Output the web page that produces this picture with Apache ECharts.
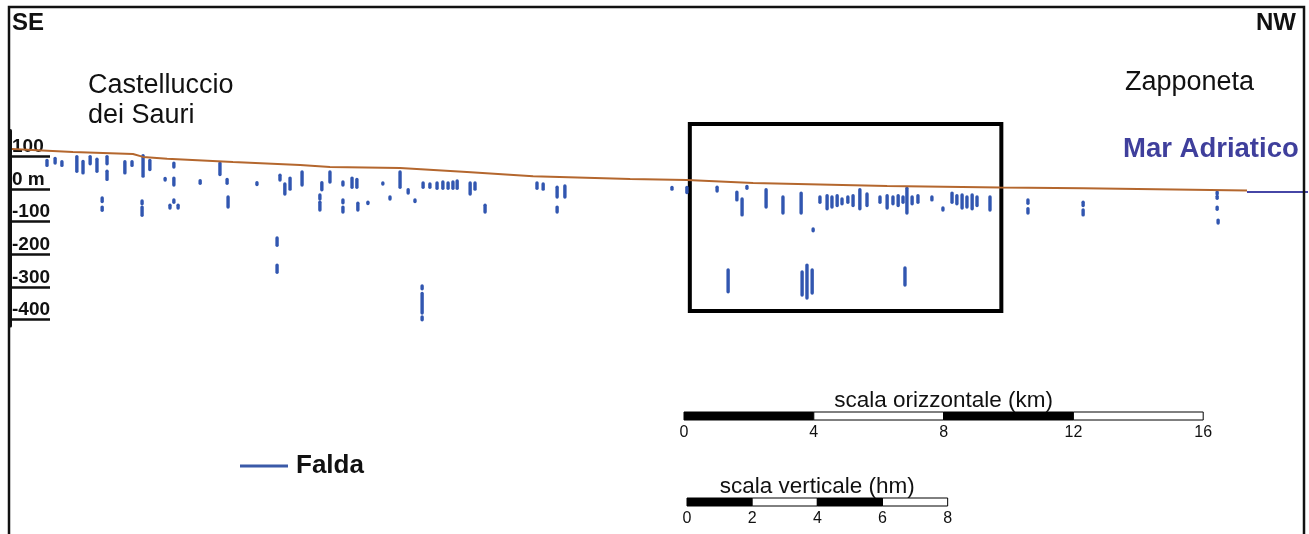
<!DOCTYPE html>
<html>
<head>
<meta charset="utf-8">
<script src="https://cdn.jsdelivr.net/npm/echarts@6/dist/echarts.min.js"></script>
<style>
html,body{margin:0;padding:0;background:#fff;}
#chart{width:1309px;height:534px;}
</style>
</head>
<body>
<div id="chart"></div>
<script>
// ---------------- DATA ----------------
// Topographic profile (distance in km from SE end, elevation in m a.s.l.)
const topoKm = [0.06, 1.94, 3.79, 4.10, 4.84, 6.87, 8.94, 9.86, 12.02, 14.08, 16.12, 19.11, 20.86, 22.90, 27.03, 30.51, 33.07, 38.12];
const topoM  = [123, 114, 108, 99, 93, 83, 74, 68, 65, 53, 40, 31, 28, 19, 10, 5, 3, -4];
// Sea level (Mar Adriatico)
const seaKm = [38.12, 40];
const seaM  = [-9, -9];
// Well screens / water intervals: [km, top m, bottom m]
const screens = [
  [1.14, 88, 73], [1.39, 94, 80], [1.60, 84, 73],
  [2.06, 100, 55], [2.25, 85, 50], [2.47, 100, 78], [2.68, 92, 55],
  [2.99, 100, 78], [2.99, 55, 30], [3.54, 84, 50], [3.76, 84, 73],
  [4.10, 103, 40], [4.31, 88, 60], [4.78, 33, 28], [5.05, 80, 68], [5.05, 34, 13],
  [5.86, 26, 18], [6.47, 80, 45], [6.69, 30, 18], [7.61, 20, 14],
  [8.32, 43, 28], [8.47, 16, -15], [8.63, 34, 0], [9.00, 53, 13],
  [9.61, 20, -2], [9.55, -18, -30], [9.55, -40, -64], [9.86, 53, 22], [10.26, 22, 13],
  [10.54, 34, 6], [10.69, 30, 6], [11.49, 19, 16], [12.02, 53, 6],
  [12.27, -2, -12], [12.73, 19, 6], [12.94, 16, 6], [13.16, 19, 3], [13.34, 22, 3],
  [13.50, 19, 3], [13.65, 22, 3], [13.78, 25, 3], [14.18, 19, -15], [14.33, 19, 0],
  [14.64, -49, -70], [16.24, 19, 3], [16.43, 16, 0], [16.86, 6, -24], [17.10, 10, -24], [16.86, -55, -70],
  [2.84, -27, -38], [2.84, -55, -65], [4.07, -36, -45], [4.07, -55, -80],
  [4.93, -49, -58], [5.18, -49, -58], [5.05, -33, -40], [6.72, -24, -55],
  [8.23, -150, -172], [8.23, -233, -255], [10.26, -33, -42], [10.26, -55, -70],
  [10.72, -43, -64], [11.03, -40, -44], [11.71, -24, -30], [12.48, -33, -38],
  [12.70, -297, -306], [12.70, -320, -380], [12.70, -392, -401],
  [20.40, 5, 0], [20.86, 5, -10], [21.79, 6, -6], [22.40, -9, -33], [22.56, -30, -79],
  [22.71, 8, 3], [23.30, -2, -55], [23.82, -24, -73], [24.38, -12, -73], [24.75, -122, -128],
  [24.96, -24, -40], [25.18, -20, -60], [25.33, -24, -55], [25.49, -20, -50], [25.64, -30, -45],
  [25.82, -24, -40], [25.98, -20, -50], [26.19, -2, -60], [26.41, -15, -50], [26.81, -24, -40],
  [27.03, -20, -58], [27.21, -24, -45], [27.37, -20, -50], [27.52, -24, -40], [27.64, 3, -73],
  [27.80, -24, -45], [27.98, -20, -40], [28.41, -24, -33], [28.75, -58, -64], [29.03, -12, -40],
  [29.18, -20, -45], [29.34, -18, -58], [29.49, -24, -55], [29.65, -18, -60], [29.80, -24, -50],
  [30.20, -24, -64],
  [22.13, -248, -315], [24.41, -254, -325], [24.56, -233, -334], [24.72, -248, -319], [27.58, -242, -294],
  [31.37, -33, -43], [31.37, -60, -73], [33.07, -40, -50], [33.07, -64, -79],
  [37.20, -9, -15], [37.20, -22, -28], [37.20, -55, -62], [37.23, -95, -104]
];
// Highlighted study area [km left, km right, m top, m bottom]
const boxArea = [20.95, 30.55, 225, -374];
// Elevation axis ticks
const yTickValues = [100, 0, -100, -200, -300, -400];
const yTickLabels = ['100', '0 m', '-100', '-200', '-300', '-400'];
// Scale bars
const hScaleTicks = [0, 4, 8, 12, 16];   // km
const vScaleTicks = [0, 2, 4, 6, 8];     // hm
const hScaleTitle = 'scala orizzontale (km)';
const vScaleTitle = 'scala verticale (hm)';
// Texts
const dirLeft = 'SE', dirRight = 'NW';
const placeLeft = ['Castelluccio', 'dei Sauri'];
const placeRight = 'Zapponeta';
const seaLabel = 'Mar Adriatico';
const legendLabel = 'Falda';

// ---------------- CHART ----------------
const FONT = '"Liberation Sans", Arial, Helvetica, sans-serif';
const chart = echarts.init(document.getElementById('chart'), null, {renderer: 'canvas'});
const topoData = topoKm.map((k, i) => [k, topoM[i]]);
const seaData = seaKm.map((k, i) => [k, seaM[i]]);

const option = {
  animation: false,
  backgroundColor: '#fff',
  grid: [
    {left: 10, right: 1, top: 124, bottom: 19},
    {left: 10, width: 40, top: 130.5, height: 195.5}
  ],
  xAxis: [
    {type: 'value', gridIndex: 0, min: 0, max: 40, show: false},
    {type: 'value', gridIndex: 1, min: 0, max: 1, show: false}
  ],
  yAxis: [
    {type: 'value', gridIndex: 0, min: -1000, max: 200, show: false},
    {
      type: 'value', gridIndex: 1, min: -420, max: 180, position: 'left',
      splitLine: {show: false},
      axisLine: {show: true, lineStyle: {color: '#111', width: 3}},
      axisTick: {show: true, inside: true, length: 40, customValues: yTickValues, lineStyle: {color: '#111', width: 2.5}},
      axisLabel: {
        show: true, inside: true, margin: 2, customValues: yTickValues,
        formatter: v => yTickLabels[yTickValues.indexOf(v)],
        color: '#111', fontSize: 19, fontWeight: 'bold', fontFamily: FONT,
        verticalAlign: 'bottom', align: 'left'
      }
    }
  ],
  series: [
    {
      type: 'custom', xAxisIndex: 0, yAxisIndex: 0, data: screens, z: 3,
      encode: {x: 0, y: [1, 2]},
      renderItem: function (params, api) {
        const p1 = api.coord([api.value(0), api.value(1)]);
        const p2 = api.coord([api.value(0), api.value(2)]);
        return {
          type: 'line',
          shape: {x1: p1[0], y1: p1[1], x2: p2[0], y2: p2[1]},
          style: {stroke: '#3156b0', lineWidth: 3.4, lineCap: 'round'}
        };
      }
    },
    {
      type: 'line', xAxisIndex: 0, yAxisIndex: 0, data: topoData, showSymbol: false, z: 4,
      lineStyle: {color: '#b4672e', width: 2},
      markArea: {
        silent: true,
        itemStyle: {color: 'rgba(0,0,0,0)', borderColor: '#000', borderWidth: 4},
        data: [[{coord: [boxArea[0], boxArea[2]]}, {coord: [boxArea[1], boxArea[3]]}]]
      }
    },
    {
      type: 'line', xAxisIndex: 0, yAxisIndex: 0, data: seaData, showSymbol: false, z: 4,
      lineStyle: {color: '#4646a6', width: 2}
    }
  ]
};
chart.setOption(option);

// ---- annotations (scale bars, labels, frame) ----
const x0 = chart.convertToPixel({gridIndex: 0}, [0, 0]);
const x1 = chart.convertToPixel({gridIndex: 0}, [1, 100]);
const pxPerKm = x1[0] - x0[0];
const pxPerHm = x0[1] - x1[1];

const g = [];
g.push({type: 'rect', z: 10, shape: {x: 9, y: 7, width: 1295, height: 540},
        style: {fill: null, stroke: '#111', lineWidth: 2.5}});
function txt(text, x, y, size, weight, align, color) {
  g.push({type: 'text', z: 10, x: x, y: y,
          style: {text: text, fontSize: size, fontWeight: weight || 'normal', fontFamily: FONT,
                  fill: color || '#111', align: align || 'left', verticalAlign: 'middle'}});
}
txt(dirLeft, 12, 23, 24, 'bold');
txt(dirRight, 1296, 23, 24, 'bold', 'right');
txt(placeLeft[0], 88, 86, 27);
txt(placeLeft[1], 88, 116, 27);
txt(placeRight, 1125, 83, 27);
txt(seaLabel, 1123, 149, 27.5, 'bold', 'left', '#3f3f9c');
g.push({type: 'line', z: 10, shape: {x1: 240, y1: 466, x2: 288, y2: 466},
        style: {stroke: '#3a5aa8', lineWidth: 3}});
txt(legendLabel, 296, 466, 26, 'bold');

function scaleBar(ticks, unitPx, ox, oy, title, titleY, labelY, titleSize, labelSize) {
  for (let i = 0; i < ticks.length - 1; i++) {
    const a = ox + ticks[i] * unitPx, b = ox + ticks[i + 1] * unitPx;
    g.push({type: 'rect', z: 10, shape: {x: a, y: oy, width: b - a, height: 8},
            style: {fill: i % 2 === 0 ? '#000' : '#fff', stroke: '#000', lineWidth: 1}});
  }
  ticks.forEach(t => txt(String(t), ox + t * unitPx, labelY, labelSize, 'normal', 'center'));
  txt(title, ox + (ticks[ticks.length - 1] / 2) * unitPx, titleY, titleSize, 'normal', 'center');
}
scaleBar(hScaleTicks, pxPerKm, 684, 412, hScaleTitle, 401, 433, 22.5, 16);
scaleBar(vScaleTicks, pxPerHm, 687, 498, vScaleTitle, 487, 519, 22.5, 16);

chart.setOption({graphic: {elements: g}});
</script>
</body>
</html>
